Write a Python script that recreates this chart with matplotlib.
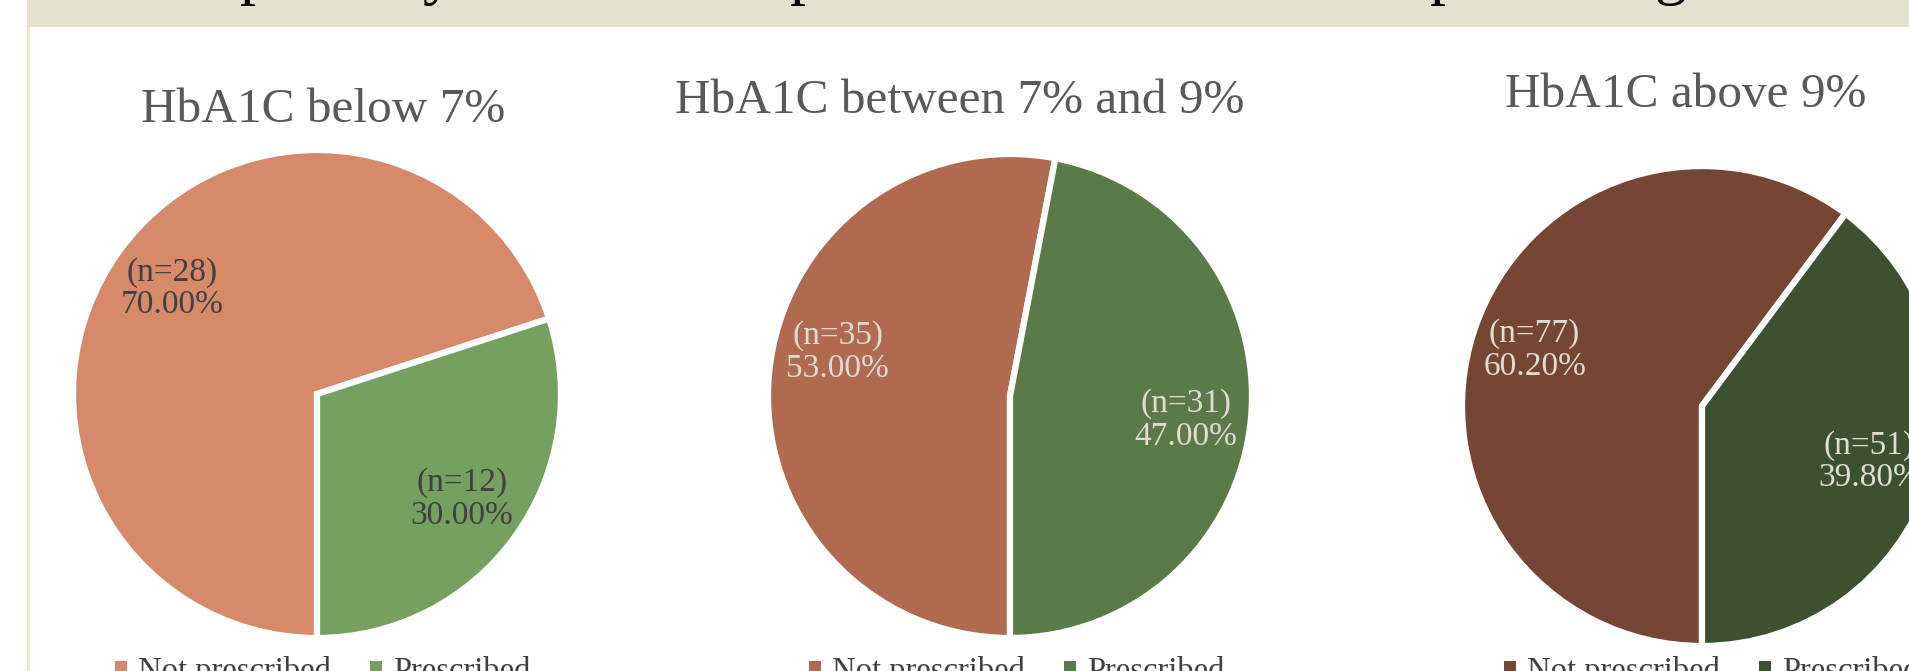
import matplotlib.pyplot as plt
import numpy as np
from matplotlib.patches import Rectangle, Patch

# data
titles = ["HbA1C below 7%", "HbA1C between 7% and 9%", "HbA1C above 9%"]
legend_labels = ["Not prescribed", "Prescribed"]
n_not_prescribed = [28, 35, 77]
n_prescribed = [12, 31, 51]
pct_not_prescribed = [70.00, 53.00, 60.20]
pct_prescribed = [30.00, 47.00, 39.80]

# colours per pie: (not prescribed, prescribed)
pie_colors = [("#D68A6A", "#76A060"),
              ("#B06A50", "#5A7B48"),
              ("#754634", "#3B5130")]
label_colors = ["#404040", "#E2DAD3", "#E2DAD3"]

W, H = 1909, 671
def fx(px):
    return px / W
def fy(py):
    return 1 - py / H

plt.rcParams['font.family'] = ['Liberation Serif', 'DejaVu Serif']

fig = plt.figure(figsize=(W / 100, H / 100), dpi=100)
fig.patch.set_facecolor("white")

# slide header band and left rule
band_h = 27
fig.patches.append(Rectangle((fx(27), fy(band_h)), 1, band_h / H, transform=fig.transFigure,
                             facecolor="#E3E0CD", edgecolor="none", zorder=0))
fig.patches.append(Rectangle((fx(27), 0), 2.5 / W, fy(band_h), transform=fig.transFigure,
                             facecolor="#F6E6C6", edgecolor="none", zorder=0))
# slide title, cut off at the top (only the descenders show)
for gx, ch in [(256, "p"), (438, "y"), (806, "p"), (1446, "p"), (1670, "g")]:
    fig.text(fx(gx), 1 + 8 / H, ch, fontsize=46, color="black", ha="center", va="baseline")

# layout (pixels)
centers = [(317, 394), (1010, 396), (1702, 406)]
radii = [244, 242, 240]
title_pos = [(323, 122), (960, 113), (1686, 107)]
legend_pos = [(323, 656), (1017, 656), (1712, 656)]
# small angular nudges (deg) of the data labels, like the original's placement
label_shift = [(0, 0), (-9, -2.5), (0, 0)]

for i in range(3):
    cx, cy = centers[i]
    r = radii[i]
    ax = fig.add_axes([fx(cx - 1.25 * r), fy(cy + 1.25 * r), 2.5 * r / W, 2.5 * r / H])
    vals = [pct_not_prescribed[i], pct_prescribed[i]]
    counts = [n_not_prescribed[i], n_prescribed[i]]
    texts = ["(n=%d)\n%.2f%%" % (counts[k], vals[k]) for k in range(2)]
    wedges, _ = ax.pie(vals, colors=pie_colors[i], startangle=-90, counterclock=False,
                       wedgeprops=dict(edgecolor="white", linewidth=4.5))
    ax.set_xlim(-1.25, 1.25)
    ax.set_ylim(-1.25, 1.25)
    # data labels
    for k, w in enumerate(wedges):
        ang = np.deg2rad((w.theta1 + w.theta2) / 2 + label_shift[i][k])
        d = 0.735
        ax.text(d * np.cos(ang), d * np.sin(ang), texts[k], ha="center", va="center",
                fontsize=24, color=label_colors[i], linespacing=1.1)
    fig.text(fx(title_pos[i][0]), fy(title_pos[i][1]), titles[i], ha="center",
             va="baseline", fontsize=35.5, color="#595959")
    handles = [Patch(facecolor=c, edgecolor="none") for c in pie_colors[i]]
    ax.legend(handles, legend_labels, loc="upper center",
              bbox_to_anchor=(fx(legend_pos[i][0]), fy(legend_pos[i][1])),
              bbox_transform=fig.transFigure, ncol=2, frameon=False, fontsize=23.5,
              handlelength=0.35, handleheight=0.35, handletextpad=0.35,
              columnspacing=1.2, borderpad=0, borderaxespad=0, labelcolor="#404040")

plt.savefig("out.png", dpi=100)
